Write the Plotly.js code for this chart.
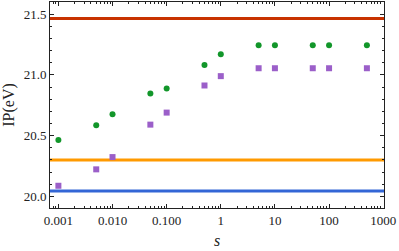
<!DOCTYPE html>
<html><head><meta charset="utf-8">
<script src="https://cdn.plot.ly/plotly-3.0.1.min.js"></script>
<style>html,body{margin:0;padding:0;background:#fff}#c{width:399px;height:251px}</style>
</head><body><div id="c"></div>
<script>
const sValues = [0.001, 0.005, 0.01, 0.05, 0.1, 0.5, 1, 5, 10, 50, 100, 500];
const greenIP = [20.464, 20.585, 20.676, 20.847, 20.888, 21.082, 21.17, 21.245, 21.245, 21.245, 21.245, 21.245];
const purpleIP = [20.088, 20.223, 20.324, 20.591, 20.69, 20.913, 20.99, 21.055, 21.055, 21.055, 21.055, 21.055];
const refLevels = [21.465, 20.30, 20.044];
const refColors = ['#c83200', '#ff9a00', '#3366d6'];
const xTickVals = [0.001, 0.01, 0.1, 1, 10, 100, 1000];
const xTickText = ['0.001', '0.010', '0.100', '1', '10', '100', '1000'];
const yTickVals = [20.0, 20.5, 21.0, 21.5];
const yTickText = ['20.0', '20.5', '21.0', '21.5'];

const xLine = [0.0006, 1100];
const minorX = [];
for (let e = -4; e <= 3; e++) for (let d = 2; d <= 9; d++) minorX.push(d * Math.pow(10, e));

const traces = [];
refLevels.forEach((v, i) => {
  traces.push({x: xLine, y: [v, v], mode: 'lines', line: {color: refColors[i], width: 3}, hoverinfo: 'skip'});
});
traces.push({x: sValues, y: greenIP, mode: 'markers', marker: {color: '#12962a', size: 6, symbol: 'circle'}});
traces.push({x: sValues, y: purpleIP, mode: 'markers', marker: {color: '#9b5fc9', size: 6, symbol: 'square'}});

const font = {family: 'Liberation Serif, DejaVu Serif, serif', size: 13, color: '#222'};
const titleFont = {family: 'Liberation Serif, DejaVu Serif, serif', size: 16, color: '#222'};
const layout = {
  width: 399, height: 251,
  margin: {l: 50, r: 15, t: 2, b: 43},
  showlegend: false,
  paper_bgcolor: '#fff', plot_bgcolor: '#fff',
  font: font,
  xaxis: {
    type: 'log', range: [-3.155, 3.015],
    tickvals: xTickVals, ticktext: xTickText,
    ticks: 'inside', ticklen: 4, tickwidth: 1, tickcolor: '#222',
    minor: {tickvals: minorX, ticks: 'inside', ticklen: 2, tickcolor: '#222'},
    showline: true, linecolor: '#222', linewidth: 1, mirror: 'ticks',
    showgrid: false, zeroline: false,
    title: {text: '<i>s</i>', font: titleFont, standoff: 8}
  },
  yaxis: {
    range: [19.905, 21.6],
    tickvals: yTickVals, ticktext: yTickText,
    ticks: 'inside', ticklen: 4, tickwidth: 1, tickcolor: '#222',
    minor: {dtick: 0.1, ticks: 'inside', ticklen: 2, tickcolor: '#222'},
    showline: true, linecolor: '#222', linewidth: 1, mirror: 'ticks',
    showgrid: false, zeroline: false,
    title: {text: 'IP(eV)', font: titleFont, standoff: 5}
  }
};
Plotly.newPlot('c', traces, layout, {staticPlot: true, displayModeBar: false});
</script></body></html>
